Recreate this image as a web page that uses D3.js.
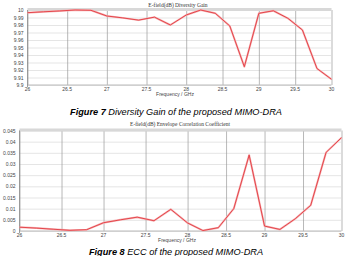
<!DOCTYPE html>
<html>
<head>
<meta charset="utf-8">
<script src="https://cdn.jsdelivr.net/npm/d3@7"></script>
<style>
  body { margin: 0; background: #fff; }
  svg { display: block; }
  .tick-label { font-family: "Liberation Sans", Arial, sans-serif; font-size: 5px; fill: #444; }
  .chart-title { font-family: "Liberation Serif", "Times New Roman", serif; font-size: 5.5px; fill: #333; }
  .caption { font-family: "Liberation Sans", Arial, sans-serif; font-size: 9.2px; font-style: italic; fill: #000; }
</style>
</head>
<body>
<div class="container"></div>
<script>
// 頻率 (GHz)
const freqs = [26, 26.2, 26.4, 26.6, 26.8, 27, 27.2, 27.4, 27.6, 27.8, 28,
               28.2, 28.4, 28.6, 28.8, 29, 29.2, 29.4, 29.6, 29.8, 30];

// Diversity Gain (dB)
const gainValues = [9.9964, 9.9976, 9.9987, 10.0, 9.9996, 9.992, 9.9895, 9.9865, 9.9905, 9.980, 9.9933,
                    10.0, 9.9956, 9.9787, 9.9244, 9.9956, 9.999, 9.9889, 9.9733, 9.922, 9.9076];

// ECC
const eccValues = [0.0017, 0.0013, 0.0008, 0.0003, 0.0006, 0.0037, 0.0050, 0.0062, 0.0046, 0.0097, 0.0036,
                   0.0002, 0.0015, 0.0100, 0.0340, 0.0022, 0.0007, 0.0055, 0.0115, 0.0352, 0.0418];

// 刻度
const freqTicks = [26, 26.5, 27, 27.5, 28, 28.5, 29, 29.5, 30];
const gainTicks = [9.9, 9.91, 9.92, 9.93, 9.94, 9.95, 9.96, 9.97, 9.98, 9.99, 10];
const eccTicks = [0, 0.005, 0.01, 0.015, 0.02, 0.025, 0.03, 0.035, 0.04, 0.045];

const svg = d3.select('.container')
    .append('svg')
    .attr('width', 346).attr('height', 256);

function drawChart(cfg) {
    // 掃描圖左右比例不一致, 以 28 GHz 為中點分段
    const xScale = d3.scaleLinear()
        .domain([26, 28, 30])
        .range([cfg.left, cfg.left + (cfg.right - cfg.left) * 0.522, cfg.right]);
    const yScale = d3.scaleLinear()
        .domain(cfg.yDomain)
        .range([cfg.bottom, cfg.top]);

    const g = svg.append('g');

    // 水平虛線格線
    const yAxis = d3.axisLeft(yScale)
        .tickValues(cfg.yTicks)
        .tickSize(-(cfg.right - cfg.left))
        .tickFormat('');
    g.append('g')
        .attr('transform', `translate(${cfg.left},0)`)
        .call(yAxis)
        .call(s => s.select('.domain').remove())
        .call(s => s.selectAll('line')
            .attr('stroke', '#aaa').attr('stroke-width', 0.6)
            .attr('stroke-dasharray', '1,1'));

    // 垂直實線格線
    const xAxis = d3.axisBottom(xScale)
        .tickValues(freqTicks)
        .tickSize(-(cfg.bottom - cfg.top))
        .tickFormat('');
    g.append('g')
        .attr('transform', `translate(0,${cfg.bottom})`)
        .call(xAxis)
        .call(s => s.select('.domain').remove())
        .call(s => s.selectAll('line').attr('stroke', '#999').attr('stroke-width', 0.7));

    // 上方灰條 & 框線
    g.append('line')
        .attr('x1', cfg.left).attr('x2', cfg.right)
        .attr('y1', cfg.top - 0.5).attr('y2', cfg.top - 0.5)
        .attr('stroke', '#d8d8d8').attr('stroke-width', 3);
    g.append('line')
        .attr('x1', cfg.left).attr('x2', cfg.right)
        .attr('y1', cfg.bottom).attr('y2', cfg.bottom)
        .attr('stroke', '#bbb').attr('stroke-width', 1);
    g.append('line')
        .attr('x1', cfg.left).attr('x2', cfg.left)
        .attr('y1', cfg.top).attr('y2', cfg.bottom + 2)
        .attr('stroke', '#888').attr('stroke-width', 0.8);

    // 刻度文字
    g.selectAll('.ylab')
        .data(cfg.yTicks).enter()
        .append('text')
        .attr('class', 'tick-label')
        .attr('x', cfg.left - 4)
        .attr('y', d => yScale(d))
        .attr('text-anchor', 'end')
        .attr('dominant-baseline', 'central')
        .text(cfg.yFormat);
    g.selectAll('.xlab')
        .data(freqTicks).enter()
        .append('text')
        .attr('class', 'tick-label')
        .attr('x', d => xScale(d))
        .attr('y', cfg.bottom + 5.5)
        .attr('text-anchor', 'middle')
        .text(d => String(d));

    // 折線
    const lineGen = d3.line()
        .x((d, i) => xScale(freqs[i]))
        .y(d => yScale(d));
    g.append('path')
        .attr('d', lineGen(cfg.values))
        .attr('fill', 'none')
        .attr('stroke', '#f6b3b5')
        .attr('stroke-width', 2)
        .attr('stroke-linejoin', 'round');
    g.append('path')
        .attr('d', lineGen(cfg.values))
        .attr('fill', 'none')
        .attr('stroke', '#e23a40')
        .attr('stroke-width', 0.9)
        .attr('stroke-linejoin', 'round');

    // 標題 / 軸名 / 圖說
    g.append('text')
        .attr('class', 'chart-title')
        .attr('x', cfg.titleX).attr('y', cfg.titleY)
        .attr('text-anchor', 'middle')
        .attr('dominant-baseline', 'central')
        .text(cfg.title);
    g.append('text')
        .attr('class', 'tick-label')
        .attr('x', cfg.titleX - 3).attr('y', cfg.bottom + 10.5)
        .attr('text-anchor', 'middle')
        .text('Frequency / GHz');
    const cap = g.append('text')
        .attr('class', 'caption')
        .attr('x', 176).attr('y', cfg.captionY)
        .attr('text-anchor', 'middle');
    cap.append('tspan').style('font-weight', 'bold').text(cfg.figLabel);
    cap.append('tspan').text(cfg.caption);
}

drawChart({
    left: 27.5, right: 331.5, top: 10, bottom: 85,
    yDomain: [9.9, 10], yTicks: gainTicks,
    yFormat: d => String(+d.toFixed(3)),
    values: gainValues,
    title: 'E-field(dB) Diversity Gain', titleX: 178, titleY: 4.5,
    figLabel: 'Figure 7', caption: ' Diversity Gain of the proposed MIMO-DRA',
    captionY: 115
});

drawChart({
    left: 19.5, right: 341.5, top: 130.5, bottom: 231,
    yDomain: [0, 0.045], yTicks: eccTicks,
    yFormat: d => String(+d.toFixed(3)),
    values: eccValues,
    title: 'E-field(dB) Envelope Correlation Coefficient', titleX: 180, titleY: 124,
    figLabel: 'Figure 8', caption: ' ECC of the proposed MIMO-DRA',
    captionY: 254.5
});
</script>
</body>
</html>
